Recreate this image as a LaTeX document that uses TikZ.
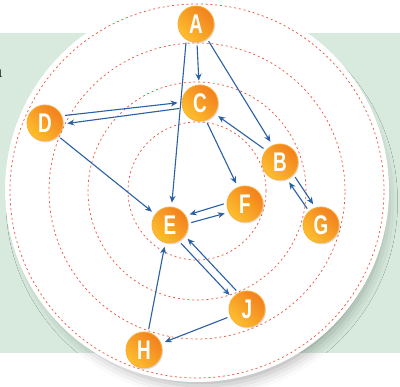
\documentclass[tikz,border=0pt]{standalone}
\usepackage{fontspec}
\newfontfamily\letterfont{Liberation Sans}
\usetikzlibrary{arrows.meta,shadows,shadows.blur}
\definecolor{bggreen}{RGB}{215,234,221}
\definecolor{ringred}{RGB}{234,82,62}
\definecolor{linkblue}{RGB}{43,96,163}
\definecolor{balllight}{RGB}{253,190,46}
\definecolor{balldark}{RGB}{242,128,30}
\definecolor{ballrim}{RGB}{250,172,52}
\newcommand{\ltr}[1]{\scalebox{0.7}[1]{#1}}
\tikzset{
  ball/.style={circle, minimum size=36pt, inner sep=0pt, shading=axis,
    top color=balldark, bottom color=balllight, shading angle=-45,
    draw=ballrim, line width=0.8pt, text=white,
    font=\letterfont\bfseries\fontsize{27}{27}\selectfont,
    drop shadow={shadow xshift=1pt, shadow yshift=-1.5pt, opacity=0.25}},
  link/.style={draw=linkblue, line width=1.1pt, -{Stealth[length=7pt,width=6pt]},
    shorten >=4pt, shorten <=3pt},
  ring/.style={draw=ringred, line width=0.7pt, dash pattern=on 2pt off 2.8pt}
}
\begin{document}
\begin{tikzpicture}[x=1pt,y=-1pt]
    \useasboundingbox (0,0) rectangle (400,387);
    \fill[bggreen] (0,33) rectangle (400,353);
    \node[anchor=base east, inner sep=0pt, text=black!85, font=\fontsize{20}{20}\selectfont] (cut) at (3,78) {n};
    \fill[white, blur shadow={shadow scale=0.96, shadow xshift=5pt, shadow yshift=-12pt, shadow blur radius=12pt, shadow opacity=30}] (197,190) circle (192pt);
    \foreach \r in {69,109,148,187}
        \draw[ring] (197,191) circle (\r pt);
    % letters
    \node[ball] (A) at (196,24) {\ltr{A}};
    \node[ball] (C) at (200,103) {\ltr{C}};
    \node[ball] (D) at (45,123) {\ltr{D}};
    \node[ball] (B) at (280,162) {\ltr{B}};
    \node[ball] (F) at (245,204) {\ltr{F}};
    \node[ball] (E) at (170,225) {\ltr{E}};
    \node[ball] (G) at (321,225) {\ltr{G}};
    \node[ball] (J) at (247,309) {\ltr{J}};
    \node[ball] (H) at (144,350) {\ltr{H}};
    % links
    \draw[link] (A.-87) -- (C.93);
    \draw[link] (A.238) -- (E.85);
    \draw[link] (A.-53) -- (B.114);
    \draw[link] (D.23) -- (C.178);
    \draw[link] (C.196) -- (D.-3);
    \draw[link] (D.-45) -- (E.144);
    \draw[link] (B.140) -- (C.-36);
    \draw[link] (C.-71) -- (F.113);
    \draw[link] (F.177) -- (E.31);
    \draw[link] (E.5) -- (F.207);
    \draw[link] (B.-43) -- (G.108);
    \draw[link] (G.131) -- (B.-68);
    \draw[link] (E.-61) -- (J.143);
    \draw[link] (J.118) -- (E.-36);
    \draw[link] (J.204) -- (H.21);
    \draw[link] (H.77) -- (E.255);
\end{tikzpicture}
\end{document}
